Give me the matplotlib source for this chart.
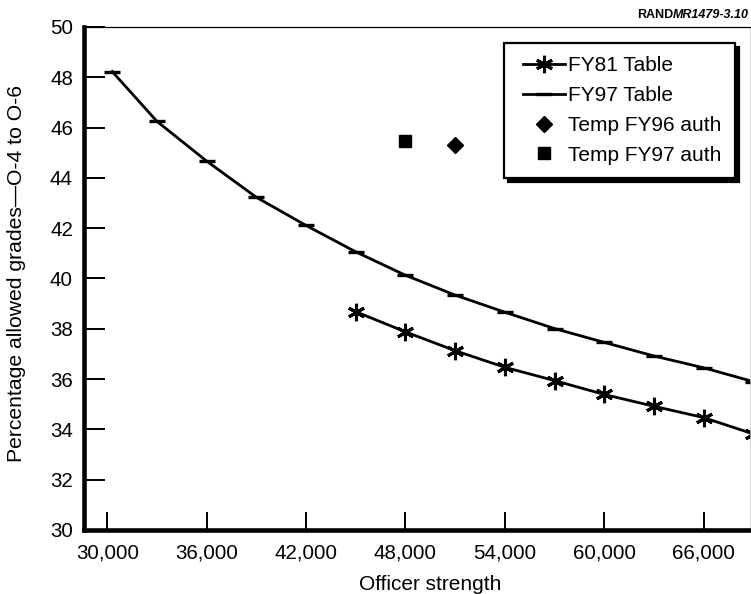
import matplotlib
matplotlib.use("Agg")
import matplotlib.pyplot as plt
from matplotlib.ticker import FuncFormatter, FixedLocator
from matplotlib.lines import Line2D
from matplotlib.legend_handler import HandlerLine2D

plt.rcParams['font.family'] = ['Liberation Sans', 'DejaVu Sans']

# Data
fy97_x = [30300, 33000, 36000, 39000, 42000, 45000, 48000, 51000, 54000, 57000, 60000, 63000, 66000, 69000]
fy97_y = [48.23, 46.25, 44.67, 43.23, 42.11, 41.06, 40.13, 39.34, 38.66, 38.01, 37.46, 36.92, 36.45, 35.90]
fy81_x = [45000, 48000, 51000, 54000, 57000, 60000, 63000, 66000, 69000]
fy81_y = [38.68, 37.88, 37.13, 36.47, 35.94, 35.39, 34.92, 34.47, 33.82]
temp96_x = [51000]
temp96_y = [45.30]
temp97_x = [48000]
temp97_y = [45.45]
xticks = [30000, 36000, 42000, 48000, 54000, 60000, 66000]
yticks = [30, 32, 34, 36, 38, 40, 42, 44, 46, 48, 50]

W, H = 751, 594
fig = plt.figure(figsize=(W / 100, H / 100), dpi=100)
ax = fig.add_axes([84 / W, 1 - 530 / H, (750 - 84) / W, (530 - 27) / H])

ax.plot(fy81_x, fy81_y, color='black', lw=2.0, marker=(6, 2, 0), ms=12.5, mew=2.2,
        label='FY81 Table')
ax.plot(fy97_x, fy97_y, color='black', lw=2.0, marker='_', ms=12, mew=2.4,
        label='FY97 Table')
ax.plot(temp96_x, temp96_y, ls='none', marker='D', ms=8.6, color='black',
        label='Temp FY96 auth')
ax.plot(temp97_x, temp97_y, ls='none', marker='s', ms=9.3, color='black',
        label='Temp FY97 auth')

ax.set_xlim(28600, 68800)
ax.set_ylim(30, 50)
ax.xaxis.set_major_locator(FixedLocator(xticks))
ax.yaxis.set_major_locator(FixedLocator(yticks))
ax.xaxis.set_major_formatter(FuncFormatter(lambda v, p: f"{int(v):,}"))
ax.yaxis.set_major_formatter(FuncFormatter(lambda v, p: f"{int(v)}"))

ax.tick_params(axis='both', direction='in', labelsize=14.8, width=1.4, color='black')
ax.tick_params(axis='y', length=15, pad=8)
ax.tick_params(axis='x', length=13, pad=10)

for s in ['left', 'bottom']:
    ax.spines[s].set_linewidth(3.3)
ax.spines['top'].set_linewidth(0.9)
ax.spines['right'].set_linewidth(0.5)
ax.spines['right'].set_color('#c8c8c8')

ax.set_xlabel('Officer strength', fontsize=15)
ax.set_ylabel('Percentage allowed grades\u2014O-4 to O-6', fontsize=15.2)
ax.xaxis.set_label_coords(0.52, -0.09)
ax.yaxis.set_label_coords(-0.087, 0.51)

leg = ax.legend(loc='upper right', bbox_to_anchor=(0.9775, 0.9688), borderaxespad=0,
                fontsize=15, frameon=True, fancybox=False,
                shadow={'color': 'black', 'alpha': 1.0, 'ox': 3, 'oy': -3},
                handlelength=2.28, handletextpad=0.16, labelspacing=0.52,
                borderpad=0.65, numpoints=1,
                handler_map={Line2D: HandlerLine2D(xpad=0.26)})
leg.get_frame().set_edgecolor('black')
leg.get_frame().set_linewidth(1.6)

t2 = fig.text(749 / W, 1 - 15 / H, 'MR1479-3.10', ha='right', va='center',
              fontsize=9, fontweight='bold', fontstyle='italic')
ax.annotate('RAND', xy=(0, 0.5), xycoords=t2, ha='right', va='center',
            fontsize=9, fontweight='bold', annotation_clip=False)

fig.savefig('out.png', dpi=100)
